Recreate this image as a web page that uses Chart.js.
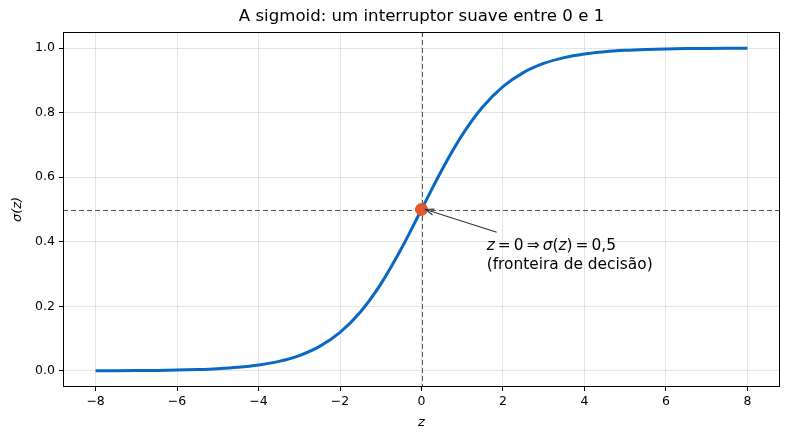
<!DOCTYPE html>
<html>
<head>
<meta charset="utf-8">
<script src="https://cdn.jsdelivr.net/npm/chart.js@4"></script>
<style>
html,body{margin:0;padding:0;background:#fff;}
#wrap{width:790px;height:440px;}
</style>
</head>
<body>
<div id="wrap"><canvas id="c" width="790" height="440"></canvas></div>
<script>
const zValues = [-8,-7.5,-7,-6.5,-6,-5.5,-5,-4.5,-4,-3.5,-3,-2.5,-2,-1.5,-1,-0.5,0,0.5,1,1.5,2,2.5,3,3.5,4,4.5,5,5.5,6,6.5,7,7.5,8];
const sigmaValues = [0.000335,0.000553,0.000911,0.001501,0.002473,0.004070,0.006693,0.010987,0.017986,0.029312,0.047426,0.075858,0.119203,0.182426,0.268941,0.377541,0.5,0.622459,0.731059,0.817574,0.880797,0.924142,0.952574,0.970688,0.982014,0.989013,0.993307,0.995930,0.997527,0.998499,0.999089,0.999447,0.999665];
const xTicks = [-8,-6,-4,-2,0,2,4,6,8];
const yTicks = [0.0,0.2,0.4,0.6,0.8,1.0];
const boundaryPoint = [{x:0, y:0.5}];
const titleText = 'A sigmoid: um interruptor suave entre 0 e 1';
// [text, italic]
const annotationLine1 = [['z',true],['\u2009=\u20090\u2009\u21D2\u2009',false],['\u03C3',true],['(',false],['z',true],[')\u2009=\u20090,5',false]];
const annotationLine2 = '(fronteira de decis\u00E3o)';
const annotationAt = {x:1.6, y:0.38};

const FONT = 'DejaVu Sans';

const overlay = {
  id:'overlay',
  beforeDatasetsDraw(chart){
    const {ctx, chartArea:a, scales:{x,y}} = chart;
    ctx.save();
    ctx.strokeStyle = '#555';
    ctx.lineWidth = 1;
    ctx.setLineDash([5,3]);
    const py = Math.round(y.getPixelForValue(0.5))+0.5;
    const px = Math.round(x.getPixelForValue(0))+0.5;
    ctx.beginPath(); ctx.moveTo(a.left,py); ctx.lineTo(a.right,py); ctx.stroke();
    ctx.beginPath(); ctx.moveTo(px,a.top); ctx.lineTo(px,a.bottom); ctx.stroke();
    ctx.restore();
  },
  afterDraw(chart){
    const {ctx, chartArea:a, scales:{x,y}} = chart;
    ctx.save();
    // frame
    ctx.strokeStyle = '#000'; ctx.lineWidth = 1; ctx.setLineDash([]);
    ctx.strokeRect(Math.round(a.left)+0.5, Math.round(a.top)+0.5, Math.round(a.right-a.left)-1, Math.round(a.bottom-a.top)-1);
    // title
    ctx.fillStyle = '#000';
    ctx.font = '16.6px "'+FONT+'"';
    ctx.textAlign = 'center'; ctx.textBaseline = 'middle';
    ctx.fillText(titleText, (a.left+a.right)/2, 17);
    // annotation text
    const tx = x.getPixelForValue(annotationAt.x);
    const base = y.getPixelForValue(annotationAt.y) + 2;
    ctx.textAlign = 'left'; ctx.textBaseline = 'alphabetic';
    let cx = tx;
    for (const [t, it] of annotationLine1) {
      ctx.font = (it ? 'italic ' : '') + '15.4px "'+FONT+'"';
      ctx.fillText(t, cx, base);
      cx += ctx.measureText(t).width;
    }
    ctx.font = '15.4px "'+FONT+'"';
    ctx.fillText(annotationLine2, tx, base + 19);
    // arrow
    const ex = x.getPixelForValue(0)+4, ey = y.getPixelForValue(0.5);
    const sx = tx+10, sy = base-18;
    ctx.strokeStyle = '#333'; ctx.lineWidth = 1.1;
    ctx.beginPath(); ctx.moveTo(sx,sy); ctx.lineTo(ex,ey); ctx.stroke();
    const ang = Math.atan2(ey-sy, ex-sx);
    const L = 9, W = 0.35;
    ctx.beginPath();
    ctx.moveTo(ex - L*Math.cos(ang-W), ey - L*Math.sin(ang-W));
    ctx.lineTo(ex,ey);
    ctx.lineTo(ex - L*Math.cos(ang+W), ey - L*Math.sin(ang+W));
    ctx.stroke();
    ctx.restore();
  }
};

new Chart(document.getElementById('c'), {
  type:'line',
  data:{
    datasets:[
      {
        data: zValues.map((z,i)=>({x:z, y:sigmaValues[i]})),
        borderColor:'#0868c4', borderWidth:3, pointRadius:0, fill:false,
        cubicInterpolationMode:'monotone', order:2
      },
      {
        type:'scatter',
        data: boundaryPoint,
        backgroundColor:'#e4572e', borderColor:'#e4572e', pointRadius:6, order:1
      }
    ]
  },
  options:{
    responsive:false, animation:false,
    layout:{padding:{top:32, right:10, left:0, bottom:0}},
    plugins:{legend:{display:false}, title:{display:false}, tooltip:{enabled:false}},
    scales:{
      x:{
        type:'linear', min:-8.8, max:8.8,
        afterBuildTicks(s){ s.ticks = xTicks.map(v=>({value:v})); },
        afterFit(s){ s.height = 53; },
        ticks:{ color:'#000', font:{family:FONT, size:12.5}, padding:3, maxRotation:0,
          callback:v=> (v<0 ? '\u2212'+Math.abs(v) : String(v)) },
        grid:{ color:'rgba(0,0,0,0.1)', tickLength:4, tickColor:'#000', drawTicks:true },
        border:{display:false},
        title:{display:true, text:'z', color:'#000', font:{family:FONT, size:13, style:'italic'}, padding:{top:2, bottom:10}}
      },
      y:{
        type:'linear', min:-0.05, max:1.05,
        afterBuildTicks(s){ s.ticks = yTicks.map(v=>({value:v})); },
        afterFit(s){ s.width = 63; },
        ticks:{ color:'#000', font:{family:FONT, size:12.5}, padding:4, callback:v=>v.toFixed(1) },
        grid:{ color:'rgba(0,0,0,0.1)', tickLength:4, tickColor:'#000' },
        border:{display:false},
        title:{display:true, text:'\u03C3(z)', color:'#000', font:{family:FONT, size:13, style:'italic'}, padding:{top:10, bottom:4}}
      }
    }
  },
  plugins:[overlay]
});
</script>
</body>
</html>
